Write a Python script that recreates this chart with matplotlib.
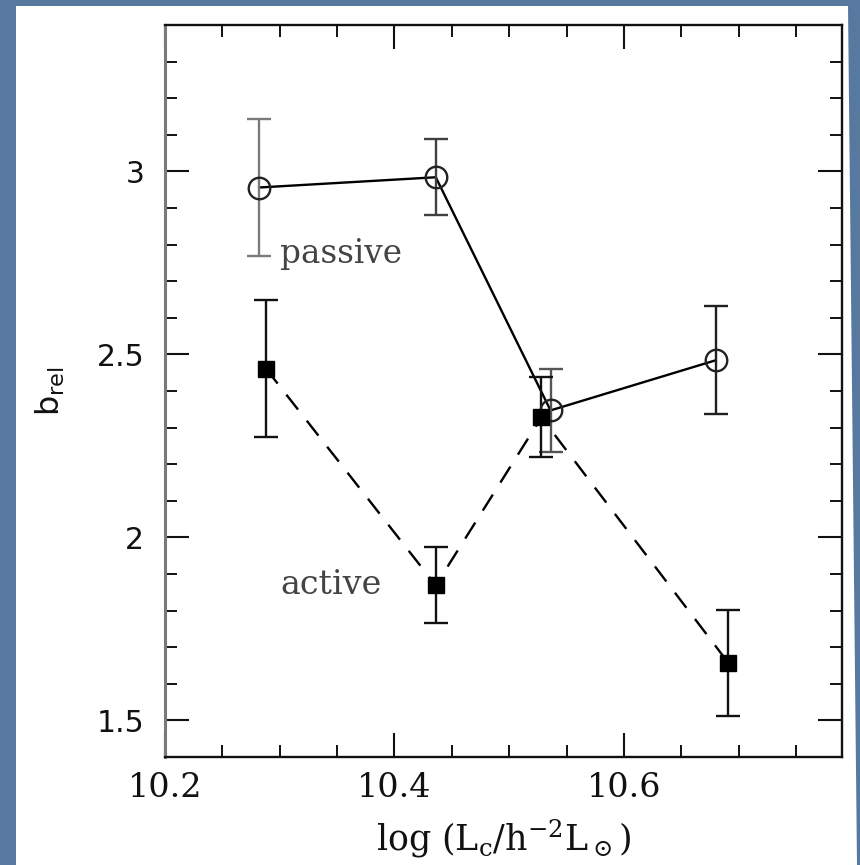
import matplotlib
matplotlib.use("Agg")
import matplotlib.pyplot as plt
from matplotlib.patches import Polygon
from matplotlib.ticker import MultipleLocator, FuncFormatter

# ---- data ----
x_passive = [10.282, 10.436, 10.536, 10.680]
y_passive = [2.956, 2.984, 2.347, 2.484]
err_passive = [0.187, 0.104, 0.113, 0.147]
ecol_passive = ['#7a7a7a', '#404040', '#555555', '#202020']

x_active = [10.288, 10.436, 10.528, 10.691]
y_active = [2.461, 1.869, 2.328, 1.657]
err_active = [0.188, 0.104, 0.109, 0.146]

xlim = (10.2, 10.79)
ylim = (1.4, 3.4)
xlabel = r'log (L$_\mathrm{c}$/h$^{-2}$L$_\odot$)'
ylabel = r'$\mathsf{b_{rel}}$'
label_passive = 'passive'
label_active = 'active'

plt.rcParams['mathtext.fontset'] = 'dejavuserif'

W, H = 860, 865
fig = plt.figure(figsize=(W / 100, H / 100), dpi=100)
fig.patch.set_facecolor('#57799f')

panel = Polygon([(16 / W, 1 - 6 / H), (848 / W, 1 - 6 / H), (857 / W, 0), (16 / W, 0)],
                closed=True, transform=fig.transFigure, facecolor='white',
                edgecolor='none', zorder=-10)
fig.patches.append(panel)

ax = fig.add_axes([165 / W, 1 - 757 / H, 677 / W, 732 / H])
ax.set_zorder(5)
ax.set_facecolor('white')
ax.set_xlim(*xlim)
ax.set_ylim(*ylim)

# lines
ax.plot(x_passive, y_passive, color='black', lw=1.7, zorder=3)
ax.plot(x_active, y_active, color='black', lw=1.7, linestyle=(0, (8, 6)), zorder=3)

# error bars
for xi, yi, ei, ci in zip(x_passive, y_passive, err_passive, ecol_passive):
    ax.errorbar([xi], [yi], yerr=[ei], fmt='none', ecolor=ci, elinewidth=1.7,
                capsize=8.5, capthick=1.7, zorder=4)
ax.errorbar(x_active, y_active, yerr=err_active, fmt='none', ecolor='#111111',
            elinewidth=1.7, capsize=8.5, capthick=1.7, zorder=4)

# markers
ax.plot(x_passive, y_passive, linestyle='none', marker='o', markersize=15.5,
        markerfacecolor='none', markeredgecolor='#222222', markeredgewidth=1.7, zorder=5)
ax.plot(x_active, y_active, linestyle='none', marker='s', markersize=11.5,
        markerfacecolor='black', markeredgecolor='black', zorder=5)

# text labels
ax.text(10.3004, 2.774, label_passive, family='DejaVu Serif', fontsize=23.5,
        color='#444444', ha='left', va='center')
ax.text(10.3004, 1.870, label_active, family='DejaVu Serif', fontsize=24,
        color='#444444', ha='left', va='center')

# ticks
ax.xaxis.set_major_locator(MultipleLocator(0.2))
ax.xaxis.set_minor_locator(MultipleLocator(0.05))
ax.yaxis.set_major_locator(MultipleLocator(0.5))
ax.yaxis.set_minor_locator(MultipleLocator(0.1))
fmt = FuncFormatter(lambda v, p: '%g' % round(v, 3))
ax.xaxis.set_major_formatter(fmt)
ax.yaxis.set_major_formatter(fmt)
ax.tick_params(which='both', direction='in', top=True, right=True, color='#111111')
ax.tick_params(which='major', length=17, width=1.5)
ax.tick_params(which='minor', length=8.5, width=1.4)
ax.tick_params(axis='x', which='major', pad=11)
ax.tick_params(axis='y', which='major', pad=15)
for lab in ax.get_xticklabels():
    lab.set_family('DejaVu Serif')
    lab.set_fontsize(24)
    lab.set_color('#111111')
for lab in ax.get_yticklabels():
    lab.set_family('DejaVu Sans')
    lab.set_fontsize(21.5)
    lab.set_color('#111111')

for side in ['top', 'bottom', 'right']:
    ax.spines[side].set_linewidth(1.7)
    ax.spines[side].set_color('#111111')
ax.spines['left'].set_linewidth(2.2)
ax.spines['left'].set_color('#7a7a7a')

ax.set_xlabel(xlabel, family='DejaVu Serif', fontsize=25, color='#111111')
ax.xaxis.set_label_coords(0.5, -0.082)
ax.set_ylabel(ylabel, fontsize=23, color='#111111')
ax.yaxis.set_label_coords(-0.145, 0.5)

fig.savefig('out.png', dpi=100, facecolor=fig.get_facecolor())
